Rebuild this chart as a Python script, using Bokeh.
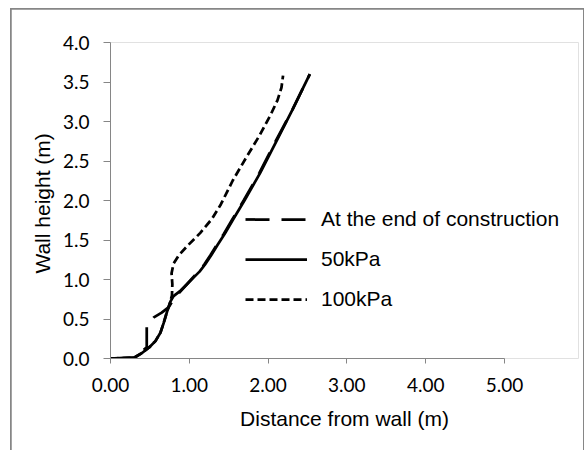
from bokeh.plotting import figure
from bokeh.layouts import column
from bokeh.models import Range1d, FixedTicker, PrintfTickFormatter, Legend, LegendItem
from bokeh.embed import file_html
from bokeh.resources import INLINE

# ---- data ----
series_names = ["At the end of construction", "50kPa", "100kPa"]

x_end = [0.00, 0.30, 0.46, 0.46, 0.55, 0.65, 0.74, 0.80, 0.88, 0.97, 1.05, 1.12, 1.19,
         1.27, 1.35, 1.44, 1.54, 1.69, 1.89, 2.09, 2.31, 2.53]
y_end = [0.00, 0.01, 0.14, 0.41, 0.52, 0.58, 0.65, 0.75, 0.84, 0.94, 1.03, 1.10, 1.19,
         1.31, 1.44, 1.58, 1.75, 2.00, 2.35, 2.74, 3.15, 3.60]

x_50 = [0.00, 0.30, 0.40, 0.49, 0.57, 0.635, 0.675, 0.72, 0.76, 0.80, 0.89, 0.98, 1.06,
        1.13, 1.20, 1.28, 1.36, 1.45, 1.55, 1.70, 1.90, 2.10, 2.31, 2.53]
y_50 = [0.00, 0.01, 0.07, 0.14, 0.22, 0.33, 0.45, 0.60, 0.72, 0.79, 0.86, 0.95, 1.03,
        1.10, 1.19, 1.31, 1.44, 1.58, 1.75, 2.00, 2.35, 2.74, 3.15, 3.60]

x_100 = [0.00, 0.30, 0.40, 0.49, 0.57, 0.635, 0.675, 0.72, 0.76, 0.78, 0.785, 0.775, 0.80,
         0.87, 0.99, 1.14, 1.29, 1.40, 1.55, 1.72, 1.89, 2.03, 2.12, 2.17, 2.19]
y_100 = [0.00, 0.01, 0.07, 0.14, 0.22, 0.33, 0.45, 0.60, 0.72, 0.80, 0.94, 1.08, 1.20,
         1.31, 1.44, 1.59, 1.77, 1.95, 2.25, 2.54, 2.82, 3.08, 3.27, 3.43, 3.58]

x_ticks = [0, 1, 2, 3, 4, 5]
y_ticks = [0.0, 0.5, 1.0, 1.5, 2.0, 2.5, 3.0, 3.5, 4.0]

x_title = "Distance from wall (m)"
y_title = "Wall  height (m)"

# ---- figure ----
GREY = "#868686"
fig = figure(width=572, height=441, output_backend="svg", toolbar_location=None,
             x_range=Range1d(0, 5.94), y_range=Range1d(0, 4),
             min_border_left=99, min_border_right=5, min_border_top=33, min_border_bottom=92)
fig.background_fill_color = "white"
fig.border_fill_color = "white"
fig.outline_line_color = None
fig.grid.visible = False

for ax in (fig.xaxis[0], fig.yaxis[0]):
    ax.axis_line_color = GREY
    ax.major_tick_line_color = GREY
    ax.minor_tick_line_color = None
    ax.major_tick_in = 0
    ax.major_label_text_font = "Lato"
    ax.major_label_text_font_size = "19px"
    ax.major_label_text_color = "#000000"
    ax.axis_label_text_font = "Liberation Sans"
    ax.axis_label_text_font_size = "21px"
    ax.axis_label_text_font_style = "normal"
    ax.axis_label_text_color = "#000000"

fig.xaxis.ticker = FixedTicker(ticks=x_ticks)
fig.xaxis.formatter = PrintfTickFormatter(format="%.2f")
fig.xaxis.bounds = (0, 5)
fig.xaxis.major_tick_out = 5
fig.xaxis.major_label_standoff = 14
fig.xaxis.axis_label = x_title
fig.xaxis.axis_label_standoff = 12

fig.yaxis.ticker = FixedTicker(ticks=y_ticks)
fig.yaxis.formatter = PrintfTickFormatter(format="%.1f")
fig.yaxis.major_tick_out = 7
fig.yaxis.major_label_standoff = 14
fig.yaxis.axis_label = y_title
fig.yaxis.axis_label_standoff = 6

r_end = fig.line(x_end, y_end, line_color="black", line_width=2.75, line_dash="24 12")
r_50 = fig.line(x_50, y_50, line_color="black", line_width=2.75)
r_100 = fig.line(x_100, y_100, line_color="black", line_width=2.75, line_dash="8 4")

legend = Legend(items=[LegendItem(label=series_names[0], renderers=[r_end]),
                       LegendItem(label=series_names[1], renderers=[r_50]),
                       LegendItem(label=series_names[2], renderers=[r_100])],
                location=(135, 39), glyph_width=62, glyph_height=40, label_height=40,
                label_standoff=14, spacing=0, padding=0, margin=0,
                border_line_color=None, background_fill_alpha=0,
                label_text_font="Liberation Sans", label_text_font_size="21px",
                label_text_color="#000000")
fig.add_layout(legend)

# grey frame round the chart: a grey box with 1px padding (no bottom edge, as in the reference)
frame_box = column(fig, styles={"background-color": GREY, "padding": "1px 1px 0px 1px"})
p = column(frame_box, styles={"background-color": "white", "padding": "8px 0px 0px 10px"})

open("out.html", "w").write(file_html(p, INLINE))
